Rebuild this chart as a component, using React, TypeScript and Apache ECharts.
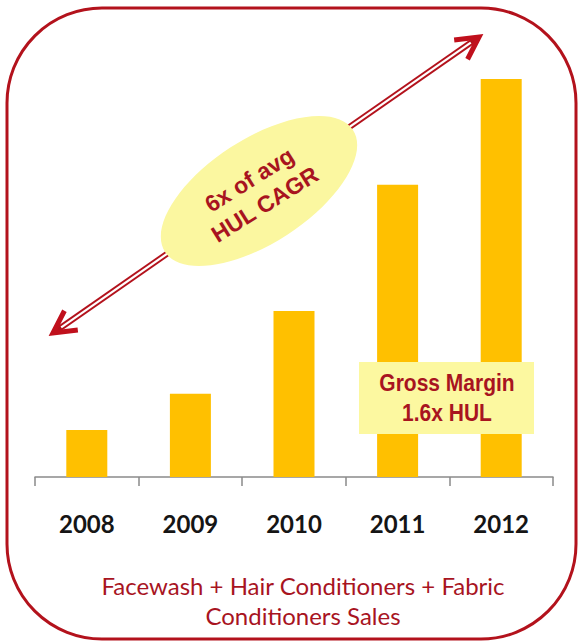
import React, { useEffect, useRef } from "react";
import * as echarts from "echarts";

const years = ["2008", "2009", "2010", "2011", "2012"];
const salesIndex = [11.8, 20.9, 41.7, 73.4, 100];
const ellipseLines = ["6x of avg", "HUL CAGR"];
const boxLines = ["Gross Margin", "1.6x HUL"];
const captionLines = ["Facewash + Hair Conditioners + Fabric", "Conditioners Sales"];

const DARK_RED = "#B3121C";
const TEXT_RED = "#A8141F";

function arrowGraphics(p1: number[], p2: number[]) {
  const dx = p2[0] - p1[0];
  const dy = p2[1] - p1[1];
  const ang = Math.atan2(dy, dx);
  const armLen = 25;
  const half = (28 * Math.PI) / 180;
  const arm = (p: number[], a: number) => [p[0] + armLen * Math.cos(a), p[1] + armLen * Math.sin(a)];
  const inset = 4;
  const s1 = [p1[0] + inset * Math.cos(ang), p1[1] + inset * Math.sin(ang)];
  const s2 = [p2[0] - inset * Math.cos(ang), p2[1] - inset * Math.sin(ang)];
  return [
    {
      type: "line",
      shape: { x1: s1[0], y1: s1[1], x2: s2[0], y2: s2[1] },
      style: { stroke: DARK_RED, lineWidth: 6 },
      z: 10,
    },
    {
      type: "line",
      shape: { x1: s1[0] + 6 * Math.cos(ang), y1: s1[1] + 6 * Math.sin(ang), x2: s2[0] - 6 * Math.cos(ang), y2: s2[1] - 6 * Math.sin(ang) },
      style: { stroke: "#ffffff", lineWidth: 2.2 },
      z: 11,
    },
    {
      type: "polyline",
      shape: { points: [arm(p1, ang - half), p1, arm(p1, ang + half)] },
      style: { stroke: "#C0101C", lineWidth: 5, fill: null, lineJoin: "miter", lineCap: "butt" },
      z: 12,
    },
    {
      type: "polyline",
      shape: { points: [arm(p2, ang + Math.PI - half), p2, arm(p2, ang + Math.PI + half)] },
      style: { stroke: "#C0101C", lineWidth: 5, fill: null, lineJoin: "miter", lineCap: "butt" },
      z: 12,
    },
  ];
}

export default function App() {
  const ref = useRef<HTMLDivElement>(null);

  useEffect(() => {
    if (!ref.current) return;
    const chart = echarts.init(ref.current, undefined, { renderer: "svg" });
    const textRot = (32 * Math.PI) / 180;
    const option: any = {
      animation: false,
      backgroundColor: "#ffffff",
      grid: { left: 35, right: 25, top: 79, bottom: 166, containLabel: false },
      xAxis: {
        type: "category",
        data: years,
        boundaryGap: true,
        axisLine: { show: true, lineStyle: { color: "#8a8a8a", width: 1.5 } },
        axisTick: { show: true, length: 9, lineStyle: { color: "#8a8a8a", width: 1.5 } },
        axisLabel: {
          margin: 34,
          color: "#151515",
          fontFamily: "Lato",
          fontWeight: "bold",
          fontSize: 24,
        },
      },
      yAxis: {
        type: "value",
        min: 0,
        max: 100,
        show: false,
        splitLine: { show: false },
      },
      series: [
        {
          type: "bar",
          data: salesIndex,
          barWidth: 41,
          itemStyle: { color: "#FFC000" },
          z: 2,
        },
      ],
      graphic: [
        {
          type: "rect",
          shape: { x: 7, y: 8, width: 569, height: 631, r: 95 },
          style: { fill: null, stroke: DARK_RED, lineWidth: 3 },
          z: 1,
        },
        ...arrowGraphics([53, 333], [479, 37]),
        {
          type: "ellipse",
          x: 259,
          y: 191,
          rotation: (33 * Math.PI) / 180,
          shape: { cx: 0, cy: 0, rx: 112, ry: 52 },
          style: { fill: "#FBF7A0" },
          z: 20,
        },
        {
          type: "text",
          x: 257,
          y: 192,
          rotation: textRot,
          style: {
            text: ellipseLines.join("\n"),
            fill: TEXT_RED,
            font: "bold 23px 'Liberation Sans', Arial, sans-serif",
            lineHeight: 29,
            align: "center",
            verticalAlign: "middle",
          },
          z: 21,
        },
        {
          type: "rect",
          shape: { x: 359, y: 362, width: 175, height: 72 },
          style: { fill: "#FCF8A0" },
          z: 20,
        },
        {
          type: "text",
          x: 447,
          y: 398,
          scaleY: 1.15,
          style: {
            text: boxLines.join("\n"),
            fill: TEXT_RED,
            font: "bold 21px 'Liberation Sans', Arial, sans-serif",
            lineHeight: 26,
            align: "center",
            verticalAlign: "middle",
          },
          z: 21,
        },
        {
          type: "text",
          x: 303,
          y: 600,
          style: {
            text: captionLines.join("\n"),
            fill: TEXT_RED,
            font: "24px Lato, sans-serif",
            lineHeight: 30,
            align: "center",
            verticalAlign: "middle",
          },
          z: 21,
        },
      ],
    };
    chart.setOption(option);
    return () => chart.dispose();
  }, []);

  return (
    <div
      ref={ref}
      style={{ position: "fixed", left: 0, top: 0, width: 578, height: 643, background: "#fff" }}
    />
  );
}
